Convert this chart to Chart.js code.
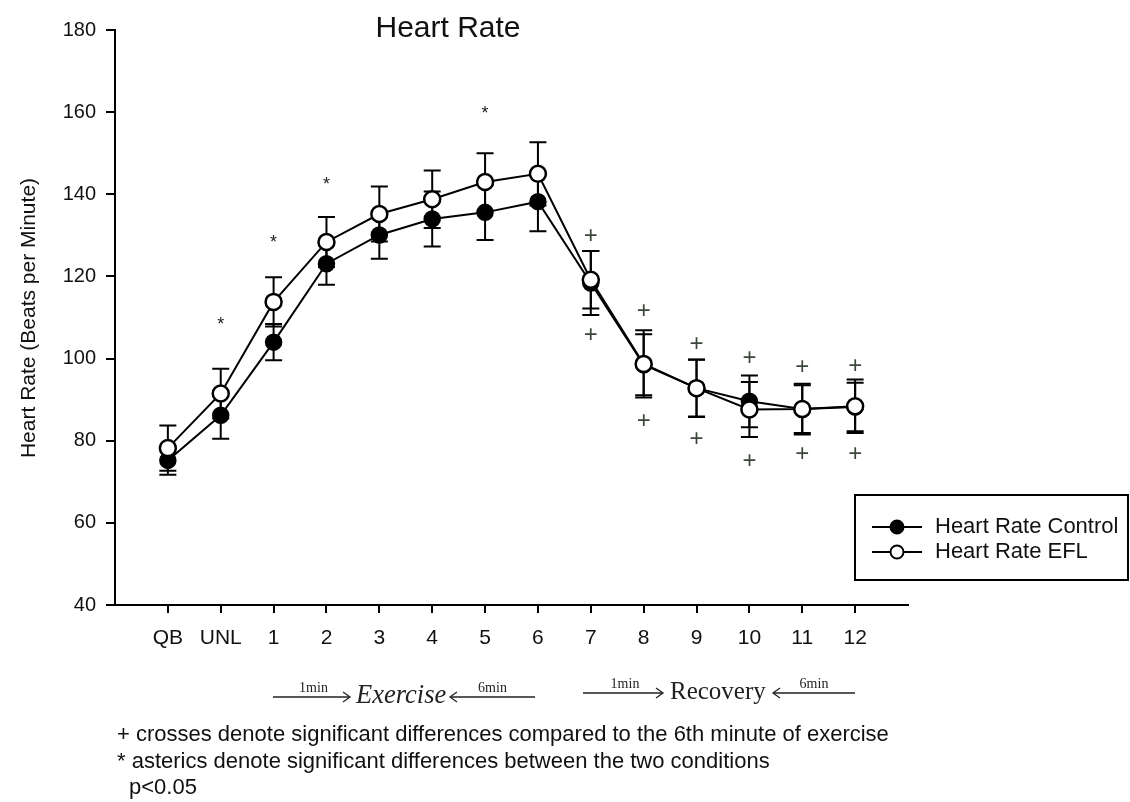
<!DOCTYPE html>
<html>
<head>
<meta charset="utf-8">
<script src="https://cdn.jsdelivr.net/npm/chart.js@4.4.1/dist/chart.umd.min.js"></script>
<style>
  html, body { margin: 0; padding: 0; background: #fff; }
  #hrChart { display: block; }
</style>
</head>
<body>
<canvas id="hrChart" width="1130" height="802"></canvas>
<script>
// time points: quiet breathing, unloaded, exercise minutes 1-6, recovery minutes 1-6 (7-12)
const timeLabels = ["QB", "UNL", "1", "2", "3", "4", "5", "6", "7", "8", "9", "10", "11", "12"];

const controlHR = [75.2, 86.2, 104.0, 123.1, 130.1, 134.0, 135.6, 138.2, 118.4, 98.5, 92.8, 89.6, 87.7, 88.2];
const controlSD = [3.5, 5.7, 4.4, 5.1, 5.8, 6.7, 6.7, 7.2, 7.8, 7.4, 7.0, 6.3, 5.8, 5.9];

const eflHR = [78.2, 91.5, 113.8, 128.4, 135.2, 138.8, 143.0, 145.0, 119.2, 98.7, 92.8, 87.6, 87.7, 88.4];
const eflSD = [5.5, 6.0, 6.0, 6.1, 6.7, 7.0, 7.0, 7.7, 7.0, 8.2, 6.9, 6.7, 6.2, 6.5];

const yTicks = [40, 60, 80, 100, 120, 140, 160, 180];

// "*" between conditions, "+" vs 6th minute of exercise
const asteriskAt = [1, 2, 3, 6];
const asteriskY = [109.3, 129.4, 143.4, 160.7];
const crossAt = [8, 9, 10, 11, 12, 13];
const crossUpperY = [130.1, 111.9, 103.8, 100.5, 98.1, 98.5];
const crossLowerY = [106.0, 85.1, 80.7, 75.4, 77.0, 77.0];

const SANS = '"Liberation Sans", Arial, sans-serif';
const SERIF = '"Liberation Serif", "Times New Roman", serif';
const INK = "#111";

// error bars go under the markers
const errorBars = {
  id: "errorBars",
  beforeDatasetsDraw(chart) {
    const { ctx, scales: { x, y } } = chart;
    const sets = [[controlHR, controlSD], [eflHR, eflSD]];
    ctx.save();
    ctx.strokeStyle = "#000";
    ctx.lineWidth = 2;
    sets.forEach(([means, sds]) => {
      means.forEach((m, i) => {
        const px = x.getPixelForValue(i);
        const top = y.getPixelForValue(m + sds[i]);
        const bot = y.getPixelForValue(m - sds[i]);
        ctx.beginPath();
        ctx.moveTo(px, top);
        ctx.lineTo(px, bot);
        ctx.moveTo(px - 8.5, top);
        ctx.lineTo(px + 8.5, top);
        ctx.moveTo(px - 8.5, bot);
        ctx.lineTo(px + 8.5, bot);
        ctx.stroke();
      });
    });
    ctx.restore();
  }
};

function arrowHead(ctx, x, y, dir) {
  ctx.beginPath();
  ctx.moveTo(x - dir * 7, y - 5);
  ctx.lineTo(x, y);
  ctx.lineTo(x - dir * 7, y + 5);
  ctx.stroke();
}

function phaseLabel(ctx, o) {
  ctx.strokeStyle = "#222";
  ctx.lineWidth = 1.3;
  ctx.beginPath();
  ctx.moveTo(o.l1, o.y);
  ctx.lineTo(o.l2, o.y);
  ctx.moveTo(o.r1, o.y);
  ctx.lineTo(o.r2, o.y);
  ctx.stroke();
  arrowHead(ctx, o.l2, o.y, 1);
  arrowHead(ctx, o.r1, o.y, -1);
  ctx.fillStyle = "#222";
  ctx.textAlign = "center";
  ctx.textBaseline = "alphabetic";
  ctx.font = "14px " + SERIF;
  ctx.fillText("1min", (o.l1 + o.l2) / 2 + 2, o.y - 5);
  ctx.fillText("6min", (o.r1 + o.r2) / 2, o.y - 5);
  ctx.textAlign = "left";
  ctx.textBaseline = "middle";
  ctx.font = o.font;
  ctx.fillText(o.text, o.tx, o.y - 1);
}

const decorations = {
  id: "decorations",
  afterDraw(chart) {
    const { ctx, scales: { x, y } } = chart;
    ctx.save();

    // x axis runs a little past the y axis
    ctx.strokeStyle = "#000";
    ctx.lineWidth = 2;
    ctx.beginPath();
    ctx.moveTo(107, y.getPixelForValue(40));
    ctx.lineTo(x.left, y.getPixelForValue(40));
    ctx.stroke();

    // significance marks
    ctx.textAlign = "center";
    ctx.textBaseline = "alphabetic";
    ctx.fillStyle = "#222";
    ctx.font = "18px " + SANS;
    asteriskAt.forEach((idx, k) => {
      ctx.fillText("*", x.getPixelForValue(idx), y.getPixelForValue(asteriskY[k]) + 10);
    });
    ctx.fillStyle = "#3b463b";
    ctx.font = "24px " + SANS;
    crossAt.forEach((idx, k) => {
      const px = x.getPixelForValue(idx);
      ctx.fillText("+", px, y.getPixelForValue(crossUpperY[k]) + 8);
      ctx.fillText("+", px, y.getPixelForValue(crossLowerY[k]) + 8);
    });

    // titles
    ctx.fillStyle = INK;
    ctx.font = "30px " + SANS;
    ctx.textBaseline = "middle";
    ctx.fillText("Heart Rate", 448, 29);

    ctx.save();
    ctx.translate(29, 318);
    ctx.rotate(-Math.PI / 2);
    ctx.font = "21px " + SANS;
    ctx.fillText("Heart Rate (Beats per Minute)", 0, 0);
    ctx.restore();

    // legend
    ctx.strokeStyle = "#000";
    ctx.lineWidth = 2;
    ctx.strokeRect(855, 495, 273, 85);
    const entries = [
      { text: "Heart Rate Control", y: 527, fill: "#000" },
      { text: "Heart Rate EFL", y: 552, fill: "#fff" }
    ];
    entries.forEach(e => {
      ctx.lineWidth = 2;
      ctx.strokeStyle = "#000";
      ctx.beginPath();
      ctx.moveTo(872, e.y);
      ctx.lineTo(922, e.y);
      ctx.stroke();
      ctx.beginPath();
      ctx.arc(897, e.y, 6.5, 0, Math.PI * 2);
      ctx.fillStyle = e.fill;
      ctx.fill();
      ctx.stroke();
      ctx.fillStyle = INK;
      ctx.font = "22px " + SANS;
      ctx.textAlign = "left";
      ctx.textBaseline = "middle";
      ctx.fillText(e.text, 935, e.y);
    });

    // exercise / recovery spans
    phaseLabel(ctx, { l1: 273, l2: 350, r1: 450, r2: 535, y: 697, text: "Exercise", tx: 356, font: "italic 26.5px " + SERIF });
    phaseLabel(ctx, { l1: 583, l2: 663, r1: 773, r2: 855, y: 693, text: "Recovery", tx: 670, font: "25px " + SERIF });

    // footnotes
    ctx.fillStyle = INK;
    ctx.font = "22px " + SANS;
    ctx.textAlign = "left";
    ctx.textBaseline = "middle";
    ctx.fillText("+ crosses denote significant differences compared to the 6th minute of exercise", 117, 735);
    ctx.fillText("* asterics denote significant differences between the two conditions", 117, 762);
    ctx.fillText("p<0.05", 129, 788);

    ctx.restore();
  }
};

const tickFont = { family: SANS, size: 21 };

new Chart(document.getElementById("hrChart").getContext("2d"), {
  type: "line",
  data: {
    datasets: [
      {
        label: "Heart Rate Control",
        data: controlHR.map((v, i) => ({ x: i, y: v })),
        borderColor: "#000",
        borderWidth: 2,
        pointRadius: 8,
        pointBackgroundColor: "#000",
        pointBorderColor: "#000",
        pointBorderWidth: 1.5,
        tension: 0,
        order: 2
      },
      {
        label: "Heart Rate EFL",
        data: eflHR.map((v, i) => ({ x: i, y: v })),
        borderColor: "#000",
        borderWidth: 2,
        pointRadius: 8,
        pointBackgroundColor: "#fff",
        pointBorderColor: "#000",
        pointBorderWidth: 2.5,
        tension: 0,
        order: 1
      }
    ]
  },
  options: {
    responsive: false,
    animation: false,
    layout: { padding: { top: 30, right: 222, left: 0, bottom: 0 } },
    plugins: {
      legend: { display: false },
      tooltip: { enabled: false },
      title: { display: false }
    },
    scales: {
      x: {
        type: "linear",
        min: -1,
        max: 14,
        afterBuildTicks: (axis) => {
          axis.ticks = timeLabels.map((l, i) => ({ value: i }));
        },
        afterFit: (axis) => { axis.height = 197; },
        ticks: {
          callback: (value) => timeLabels[value],
          color: INK,
          font: tickFont,
          padding: 13,
          autoSkip: false,
          maxRotation: 0
        },
        grid: { drawOnChartArea: false, drawTicks: true, tickLength: 8, color: "#000", lineWidth: 2 },
        border: { display: true, color: "#000", width: 2 }
      },
      y: {
        min: 40,
        max: 180,
        afterBuildTicks: (axis) => {
          axis.ticks = yTicks.map(v => ({ value: v }));
        },
        afterFit: (axis) => { axis.width = 115; },
        ticks: { color: INK, font: { family: SANS, size: 20 }, padding: 10 },
        grid: { drawOnChartArea: false, drawTicks: true, tickLength: 9, color: "#000", lineWidth: 2 },
        border: { display: true, color: "#000", width: 2 }
      }
    }
  },
  plugins: [errorBars, decorations]
});
</script>
</body>
</html>
